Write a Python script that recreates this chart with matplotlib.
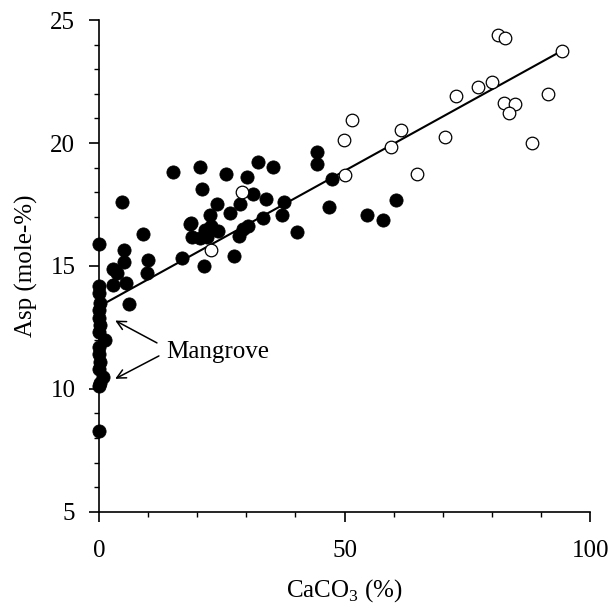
"""Asp (mole-%) against CaCO3 (%) scatter, with a linear fit and a Mangrove note."""

import matplotlib
matplotlib.use("Agg")
import matplotlib.pyplot as plt
from matplotlib.ticker import MultipleLocator


# filled circles
filled_x = [0, 0, 0, 0.3, 0, 0, 0.2, 0, 1.2, 0, 0, 0.2, 0, 0.9, 0.3, 0, 0,
            4.7, 9.0, 2.9, 3.7, 5.1, 5.1, 2.9, 5.6, 10.0, 9.7, 6.2, 15.1, 16.8,
            18.5, 18.7, 18.9, 20.6, 20.9, 20.6, 21.9, 21.6, 21.3, 22.5, 22.9,
            24.1, 24.3, 25.9, 26.7, 27.5, 28.7, 28.6, 29.4, 30.1, 31.4, 30.4,
            32.3, 33.9, 33.4, 35.4, 37.7, 37.2, 40.4, 44.3, 44.3, 47.4, 46.9,
            54.5, 57.8, 60.5]
filled_y = [15.9, 14.2, 13.9, 13.5, 13.2, 12.9, 12.6, 12.3, 12.0, 11.7, 11.4,
            11.1, 10.8, 10.5, 10.25, 10.1, 8.3,
            17.6, 16.3, 14.87, 14.73, 15.65, 15.15, 14.23, 14.32, 15.24, 14.73,
            13.44, 18.83, 15.34, 16.71, 16.74, 16.17, 19.04, 18.12, 16.13, 16.19,
            16.46, 15.01, 17.07, 16.63, 17.52, 16.42, 18.74, 17.16, 15.42, 17.52,
            16.2, 16.5, 18.63, 17.93, 16.63, 19.21, 17.71, 16.96, 19.01, 17.62,
            17.07, 16.4, 19.65, 19.13, 18.52, 17.39, 17.07, 16.87, 17.68]

# open circles
open_x = [22.9, 29.1, 50.1, 49.9, 51.6, 59.4, 61.4, 64.7, 70.5, 72.6, 77.1,
          80.0, 81.3, 82.6, 82.4, 84.7, 83.5, 88.2, 91.5, 94.2]
open_y = [15.65, 18.0, 18.7, 20.12, 20.93, 19.83, 20.53, 18.73, 20.23, 21.91,
          22.29, 22.49, 24.39, 24.26, 21.61, 21.59, 21.21, 19.99, 21.99, 23.75]

# fitted line end points
fit_x = [1.8, 94.2]
fit_y = [13.55, 23.75]

plt.rcParams["font.family"] = "serif"
plt.rcParams["font.serif"] = ["Liberation Serif", "Times New Roman", "Times",
                              "DejaVu Serif"]
plt.rcParams["mathtext.fontset"] = "custom"
plt.rcParams["mathtext.rm"] = "Liberation Serif"

fig = plt.figure(figsize=(6.11, 6.10), dpi=100, facecolor="white")
ax = fig.add_axes([0.162, 0.161, 0.804, 0.806])

ax.plot(fit_x, fit_y, color="black", lw=1.5, zorder=2)
ax.scatter(filled_x, filled_y, s=90, c="black", edgecolors="black",
           linewidths=0.6, zorder=3, clip_on=False)
ax.scatter(open_x, open_y, s=82, facecolors="white", edgecolors="black",
           linewidths=0.9, zorder=3, clip_on=False)

arrow = dict(arrowstyle="->", color="black", lw=1.1, shrinkA=0, shrinkB=0,
             mutation_scale=16)
ax.annotate("", xy=(3.3, 12.78), xytext=(11.8, 11.87), arrowprops=arrow)
ax.annotate("", xy=(3.3, 10.41), xytext=(12.2, 11.34), arrowprops=arrow)
ax.text(13.6, 11.5, "Mangrove", fontsize=18, va="center", ha="left")

ax.set_xlim(0, 100)
ax.set_ylim(5, 25)
ax.xaxis.set_major_locator(MultipleLocator(50))
ax.xaxis.set_minor_locator(MultipleLocator(10))
ax.yaxis.set_major_locator(MultipleLocator(5))
ax.yaxis.set_minor_locator(MultipleLocator(1))
for side in ("top", "right"):
    ax.spines[side].set_visible(False)
for side in ("left", "bottom"):
    ax.spines[side].set_linewidth(1.2)
ax.tick_params(which="major", direction="out", length=7, width=1.2,
               labelsize=18, pad=10)
ax.tick_params(axis="x", which="major", pad=13)
ax.tick_params(which="minor", direction="out", length=3.5, width=1.0)

ax.set_xlabel("CaCO$_3$ (%)", fontsize=18, labelpad=11)
ax.set_ylabel("Asp (mole-%)", fontsize=18, labelpad=9)

fig.savefig("out.png", dpi=100, facecolor="white")
